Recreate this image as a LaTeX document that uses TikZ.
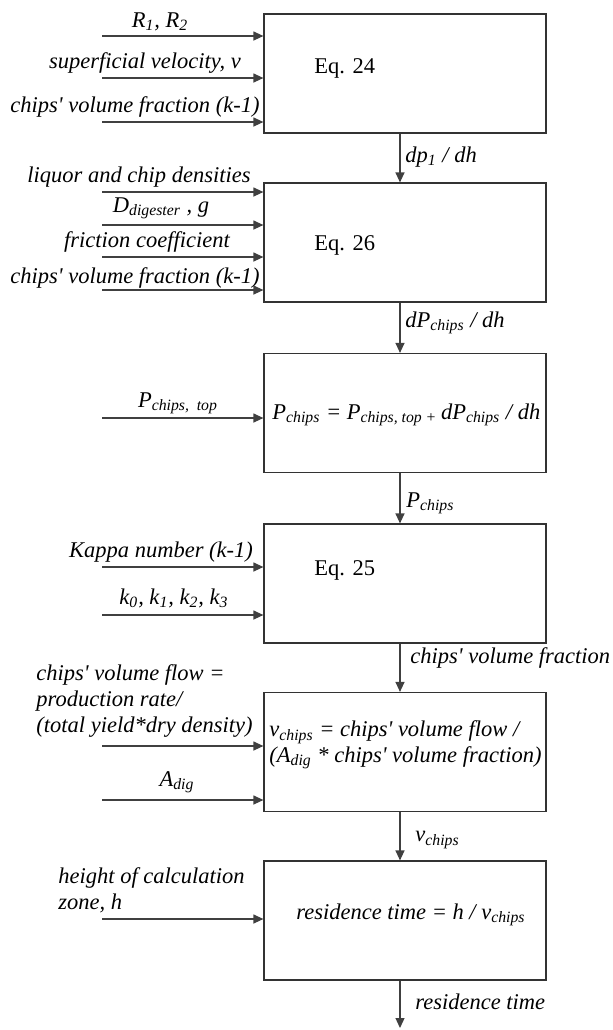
\documentclass[tikz,border=0pt]{standalone}
\usepackage{fontspec}
\setmainfont{Liberation Serif}
\usetikzlibrary{arrows.meta}
\newcommand{\subx}[1]{\textsubscript{#1}}
\newcommand{\apos}{\textquotesingle}
\begin{document}
\begin{tikzpicture}[x=0.5pt,y=-0.5pt,
  box/.style={draw=black!80, line width=0.6pt, minimum width=141pt, minimum height=59.5pt, inner sep=0pt},
  arr/.style={draw=black!75, line width=0.6pt, -{Triangle[length=5pt,width=4.5pt]}},
  lbl/.style={font=\fontsize{11.25}{12.8}\selectfont\itshape, inner sep=0pt},
  eq/.style={font=\fontsize{11.25}{12.8}\selectfont, inner sep=0pt}
]
\useasboundingbox (0,0) rectangle (613,1030);

% boxes
\node[box] (b1) at (405,73.5) {};
\node[box] (b2) at (405,242.5) {};
\node[box] (b3) at (405,413) {};
\node[box] (b4) at (405,583.5) {};
\node[box] (b5) at (405,752) {};
\node[box] (b6) at (405,920.5) {};

% box contents
\node[eq, anchor=west] (e1) at (314,68) {Eq. 24};
\node[eq, anchor=west] (e2) at (314,245) {Eq. 26};
\node[lbl, anchor=west] (e3) at (272,415) {P\subx{chips} = P\subx{chips, top +}\,dP\subx{chips} / dh};
\node[eq, anchor=west] (e4) at (314,570) {Eq. 25};
\node[lbl, anchor=west, align=left] (e5) at (269,745) {v\subx{chips} = chips\apos{} volume flow /\\(A\subx{dig} * chips\apos{} volume fraction)};
\node[lbl] (e6) at (411,915) {residence time = h / v\subx{chips}};

% inputs box 1
\coordinate (a11) at (102,36);  \draw[arr] (a11) -- (a11 -| b1.west);
\coordinate (a12) at (102,78);  \draw[arr] (a12) -- (a12 -| b1.west);
\coordinate (a13) at (102,122); \draw[arr] (a13) -- (a13 -| b1.west);
\node[lbl] (l11) at (160,22) {R\subx{1}, R\subx{2}};
\node[lbl] (l12) at (145,63) {superficial velocity, v};
\node[lbl] (l13) at (135,107) {chips\apos{} volume fraction (k-1)};

% inputs box 2
\coordinate (a21) at (102,192); \draw[arr] (a21) -- (a21 -| b2.west);
\coordinate (a22) at (102,225); \draw[arr] (a22) -- (a22 -| b2.west);
\coordinate (a23) at (102,257); \draw[arr] (a23) -- (a23 -| b2.west);
\coordinate (a24) at (102,290); \draw[arr] (a24) -- (a24 -| b2.west);
\node[lbl] (l21) at (139,177) {liquor and chip densities};
\node[lbl] (l22) at (161,208) {D\subx{digester} , g};
\node[lbl] (l23) at (147,242) {friction coefficient};
\node[lbl] (l24) at (135,278) {chips\apos{} volume fraction (k-1)};

% input box 3
\coordinate (a31) at (102,418); \draw[arr] (a31) -- (a31 -| b3.west);
\node[lbl] (l31) at (178,403) {P\subx{chips,\ \ top}};

% inputs box 4
\coordinate (a41) at (102,567); \draw[arr] (a41) -- (a41 -| b4.west);
\coordinate (a42) at (102,615); \draw[arr] (a42) -- (a42 -| b4.west);
\node[lbl] (l41) at (161,552) {Kappa number (k-1)};
\node[lbl] (l42) at (174,598) {k\subx{0}, k\subx{1}, k\subx{2}, k\subx{3}};

% inputs box 5
\coordinate (a51) at (102,746); \draw[arr] (a51) -- (a51 -| b5.west);
\coordinate (a52) at (102,800); \draw[arr] (a52) -- (a52 -| b5.west);
\node[lbl, anchor=west, align=left] (l51) at (36,701) {chips\apos{} volume flow =\\production rate/\\(total yield*dry density)};
\node[lbl] (l52) at (177,782) {A\subx{dig}};

% input box 6
\coordinate (a61) at (102,919); \draw[arr] (a61) -- (a61 -| b6.west);
\node[lbl, anchor=west, align=left] (l61) at (58,890) {height of calculation\\zone, h};

% vertical connectors
\draw[arr] ([xshift=-2.5pt]b1.south) -- ([xshift=-2.5pt]b2.north);
\draw[arr] ([xshift=-2.5pt]b2.south) -- ([xshift=-2.5pt]b3.north);
\draw[arr] ([xshift=-2.5pt]b3.south) -- ([xshift=-2.5pt]b4.north);
\draw[arr] ([xshift=-2.5pt]b4.south) -- ([xshift=-2.5pt]b5.north);
\draw[arr] ([xshift=-2.5pt]b5.south) -- ([xshift=-2.5pt]b6.north);
\coordinate (fin) at (400,1028);
\draw[arr] ([xshift=-2.5pt]b6.south) -- (fin);

% connector labels
\node[lbl, anchor=west] (v1) at (405,157) {dp\subx{1} / dh};
\node[lbl, anchor=west] (v2) at (405,323) {dP\subx{chips} / dh};
\node[lbl, anchor=west] (v3) at (406,503) {P\subx{chips}};
\node[lbl, anchor=west] (v4) at (410,658) {chips\apos{} volume fraction};
\node[lbl, anchor=west] (v5) at (415,840) {v\subx{chips}};
\node[lbl, anchor=west] (v6) at (415,1002) {residence time};
\end{tikzpicture}
\end{document}
